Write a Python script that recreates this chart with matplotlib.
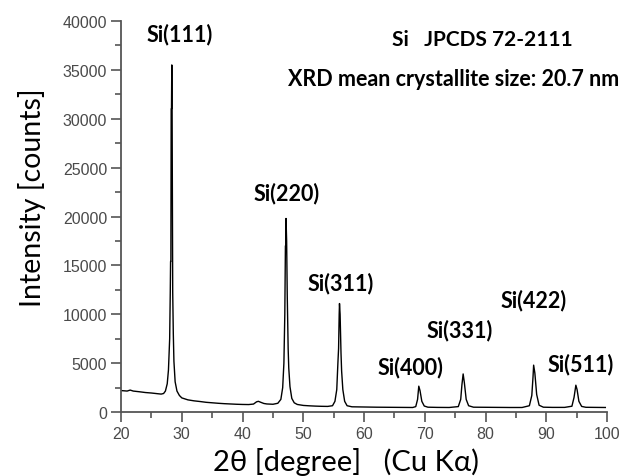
import matplotlib
matplotlib.use("Agg")
import matplotlib.pyplot as plt
from matplotlib.ticker import MultipleLocator

# XRD pattern (2theta in degrees, intensity in counts)
two_theta = [20.0, 21.0, 21.5, 22.0, 23.0, 24.0, 25.0, 26.0, 26.6, 27.0, 27.3, 27.6,
             27.8, 28.0, 28.1, 28.15, 28.2, 28.25, 28.3, 28.35, 28.4, 28.5, 28.6,
             28.7, 28.9, 29.2, 29.6, 30.0, 31.0, 32.0, 33.0, 34.0, 35.0, 36.0, 37.0,
             38.0, 39.0, 40.0, 41.0, 41.8, 42.3, 42.6, 43.0, 43.5, 44.0, 45.0, 45.8,
             46.3, 46.6, 46.8, 46.95, 47.05, 47.1, 47.15, 47.25, 47.35, 47.5, 47.6,
             47.8, 48.1, 48.5, 49.0, 50.0, 51.0, 52.0, 53.0, 54.0, 54.8, 55.2, 55.5,
             55.7, 55.8, 55.9, 55.95, 56.05, 56.2, 56.3, 56.5, 56.8, 57.2, 58.0,
             60.0, 62.0, 64.0, 66.0, 68.0, 68.5, 68.8, 69.0, 69.2, 69.5, 69.9, 70.5,
             72.0, 74.0, 75.5, 75.9, 76.1, 76.3, 76.5, 76.8, 77.2, 78.0, 80.0, 82.0,
             84.0, 86.0, 87.2, 87.6, 87.8, 87.9, 88.1, 88.4, 88.8, 89.5, 91.0, 93.0,
             94.2, 94.55, 94.85, 95.05, 95.35, 95.8, 96.5, 98.0, 99.7]
intensity = [2200, 2150, 2250, 2150, 2080, 2000, 1950, 1880, 1840, 1900, 2150, 2900,
             4300, 7500, 12300, 15400, 15400, 31000, 31000, 35500, 31000, 12300, 8000,
             5200, 3100, 2150, 1700, 1450, 1250, 1150, 1080, 1000, 950, 900, 860,
             830, 800, 780, 770, 820, 1050, 1100, 1000, 880, 830, 800, 900,
             1300, 2500, 5000, 10000, 17000, 17000, 19800, 17500, 12000, 6500, 4500,
             2600, 1400, 950, 780, 680, 640, 610, 590, 580, 650, 1100, 2300,
             5200, 6500, 10000, 11100, 10000, 6000, 4200, 2300, 1100, 650, 540,
             520, 500, 490, 480, 470, 560, 1300, 2650, 2200, 1100, 620, 500,
             480, 470, 560, 1300, 2800, 3900, 3000, 1300, 650, 500, 490, 480,
             470, 470, 650, 1700, 3600, 4800, 4000, 1800, 700, 500, 480, 480,
             600, 1500, 2750, 2300, 1100, 580, 490, 480, 470]

# reflection labels (hkl) and their text anchors
peak_labels = ["Si(111)", "Si(220)", "Si(311)", "Si(400)", "Si(331)", "Si(422)", "Si(511)"]
label_x = [29.7, 47.3, 56.2, 67.6, 75.8, 87.9, 95.6]
label_y = [38700, 22500, 13200, 4700, 8400, 11500, 5000]

fig = plt.figure(figsize=(6.24, 4.77), dpi=100)
ax = fig.add_axes([0.194, 0.134, 0.779, 0.820])

ax.plot(two_theta, intensity, color="black", lw=1.0)

ax.set_xlim(20, 100)
ax.set_ylim(0, 40000)
ax.xaxis.set_major_locator(MultipleLocator(10))
ax.xaxis.set_minor_locator(MultipleLocator(5))
ax.yaxis.set_major_locator(MultipleLocator(5000))
ax.yaxis.set_minor_locator(MultipleLocator(2500))

for s in ["top", "right"]:
    ax.spines[s].set_visible(False)
for s in ["left", "bottom"]:
    ax.spines[s].set_color("#555555")
    ax.spines[s].set_linewidth(1.3)

ax.tick_params(which="major", direction="out", length=7, width=1.2, color="#555555",
               labelsize=11.5, labelcolor="#4a4a4a", pad=3)
ax.tick_params(which="minor", direction="out", length=4, width=1.2, color="#555555")
for lab in ax.get_xticklabels() + ax.get_yticklabels():
    lab.set_family("Liberation Sans")

ax.set_xlabel("2θ [degree]   (Cu Kα)", fontsize=21, family="Lato")
ax.set_ylabel("Intensity [counts]", fontsize=20.5, family="Lato")
ax.xaxis.set_label_coords(0.463, -0.088)
ax.yaxis.set_label_coords(-0.155, 0.55)

for t, x, y in zip(peak_labels, label_x, label_y):
    ax.text(x, y, t, ha="center", va="center", fontsize=15.5, fontweight="bold", family="Lato")

ax.text(79.4, 38200, "Si   JPCDS 72-2111", ha="center", va="center",
        fontsize=15, fontweight="bold", family="Lato")
ax.text(74.8, 34100, "XRD mean crystallite size: 20.7 nm", ha="center", va="center",
        fontsize=15.5, fontweight="bold", family="Lato", clip_on=False)

fig.savefig("out.png", dpi=100)
